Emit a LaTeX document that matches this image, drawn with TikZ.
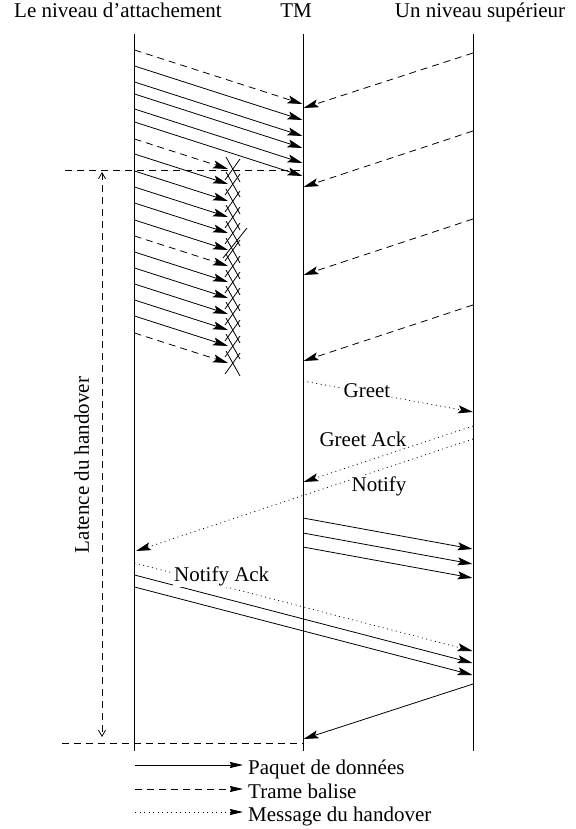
\documentclass[tikz,border=0pt]{standalone}
\usepackage{fontspec}
\setmainfont{Liberation Serif}
\usetikzlibrary{arrows.meta}
\begin{document}
\begin{tikzpicture}[x=1pt,y=-1pt,
  every node/.style={font=\fontsize{21}{25}\selectfont, inner sep=0pt},
  life/.style={line width=0.8pt},
  msg/.style={line width=0.8pt, -{Stealth[length=15pt,width=8pt,inset=3pt]}},
  beacon/.style={dash pattern=on 7pt off 5pt},
  hmsg/.style={dash pattern=on 0.9pt off 3.6pt},
  guide/.style={line width=0.8pt, dash pattern=on 7pt off 5pt},
  latarrow/.style={guide, {Straight Barb[length=6pt,width=7pt]}-{Straight Barb[length=6pt,width=7pt]}},
  lbl/.style={fill=white, inner sep=1pt},
  xmark/.style={line width=0.8pt},
  legarrow/.style={line width=0.8pt, -{Stealth[length=13pt,width=6pt,inset=1pt]}},
]
\useasboundingbox (0,0) rectangle (575,829);

% headers
\node[anchor=base] (hL) at (118,18) {Le niveau d’attachement};
\node[anchor=base] (hT) at (296,18) {TM};
\node[anchor=base] (hR) at (480,18) {Un niveau supérieur};

% lifelines
\coordinate (L0) at (134.5,34); \coordinate (L1) at (134.5,751);
\coordinate (T0) at (303,34);   \coordinate (T1) at (303,751);
\coordinate (R0) at (473,34);   \coordinate (R1) at (473,751);
\draw[life] (L0) -- (L1);
\draw[life] (T0) -- (T1);
\draw[life] (R0) -- (R1);

% horizontal guides
\coordinate (ga) at (65,170.7);  \coordinate (gb) at (303,170.7);
\coordinate (gc) at (62,743.5);  \coordinate (gd) at (303,743.5);
\draw[guide] (ga) -- (gb);
\draw[guide] (gc) -- (gd);

% latency
\coordinate (la) at (102,172); \coordinate (lb) at (102,737);
\draw[latarrow] (la) -- (lb);
\node[rotate=90] (lat) at (81.7,465) {Latence du handover};

% messages from attachment level reaching TM
\foreach \s/\k [count=\i] in {50/beacon,66/solid,82/solid,94/solid,109/solid,122/solid}{
  \coordinate (ta\i) at (134.5,\s);
  \coordinate (tb\i) at (302.5,\s+54);
  \draw[msg,\k] (ta\i) -- (tb\i);
}

% lost messages with crosses
\foreach \s/\k [count=\i] in {139/beacon,154/solid,171/solid,187/solid,203/solid,220/solid,236/beacon,252/solid,268/solid,284/solid,300/solid,316/solid,333/beacon}{
  \coordinate (la\i) at (134.5,\s);
  \coordinate (lt\i) at (228,\s+30);
  \draw[msg,\k] (la\i) -- (lt\i);
  \coordinate (xa\i) at (226,\s+18);
  \coordinate (xb\i) at (240,\s+43);
  \coordinate (xc\i) at (240,\s+20);
  \coordinate (xd\i) at (225,\s+41);
  \draw[xmark] (xa\i) -- (xb\i);
  \draw[xmark] (xc\i) -- (xd\i);
}
\coordinate (xe) at (247,228); \coordinate (xf) at (223,258);
\draw[xmark] (xe) -- (xf);

% beacons from upper level to TM
\foreach \s/\e [count=\i] in {53/108,131/187,219/275,305/361}{
  \coordinate (ra\i) at (473,\s);
  \coordinate (rb\i) at (303.5,\e);
  \draw[msg,beacon] (ra\i) -- (rb\i);
}

% handover messages
\coordinate (g1) at (303,381); \coordinate (g2) at (473,412);
\draw[msg,hmsg] (g1) -- (g2);
\coordinate (ga1) at (473,426); \coordinate (ga2) at (303.5,482);
\draw[msg,hmsg] (ga1) -- (ga2);
\coordinate (n1) at (473,439); \coordinate (n2) at (136,551);
\draw[msg,hmsg] (n1) -- (n2);

% data TM -> upper level
\foreach \s [count=\i] in {518,533,547}{
  \coordinate (da\i) at (303,\s);
  \coordinate (db\i) at (472.5,\s+31);
  \draw[msg] (da\i) -- (db\i);
}

% notify ack and data from attachment level
\coordinate (na1) at (134.5,563); \coordinate (na2) at (472.5,651);
\draw[msg,hmsg] (na1) -- (na2);
\coordinate (dd1) at (134.5,575); \coordinate (dd2) at (472.5,663);
\draw[msg] (dd1) -- (dd2);
\coordinate (de1) at (134.5,587); \coordinate (de2) at (472.5,675);
\draw[msg] (de1) -- (de2);

% data upper level -> TM
\coordinate (u1) at (473,684); \coordinate (u2) at (303.5,739);
\draw[msg] (u1) -- (u2);

% labels
\node[lbl] (lgreet) at (367,391) {Greet};
\node[lbl] (lgack) at (363,439) {Greet Ack};
\node[lbl] (lnotify) at (379,486) {Notify};
\node[lbl] (lnack) at (221.7,576) {Notify Ack};

% legend
\coordinate (k1a) at (135,765); \coordinate (k1b) at (243,765);
\coordinate (k2a) at (135,789); \coordinate (k2b) at (243,789);
\coordinate (k3a) at (135,812); \coordinate (k3b) at (243,812);
\draw[legarrow] (k1a) -- (k1b);
\draw[legarrow,beacon] (k2a) -- (k2b);
\draw[legarrow,hmsg] (k3a) -- (k3b);
\node[anchor=base west] (t1) at (248,774) {Paquet de données};
\node[anchor=base west] (t2) at (248,798) {Trame balise};
\node[anchor=base west] (t3) at (248,821) {Message du handover};
\end{tikzpicture}
\end{document}
